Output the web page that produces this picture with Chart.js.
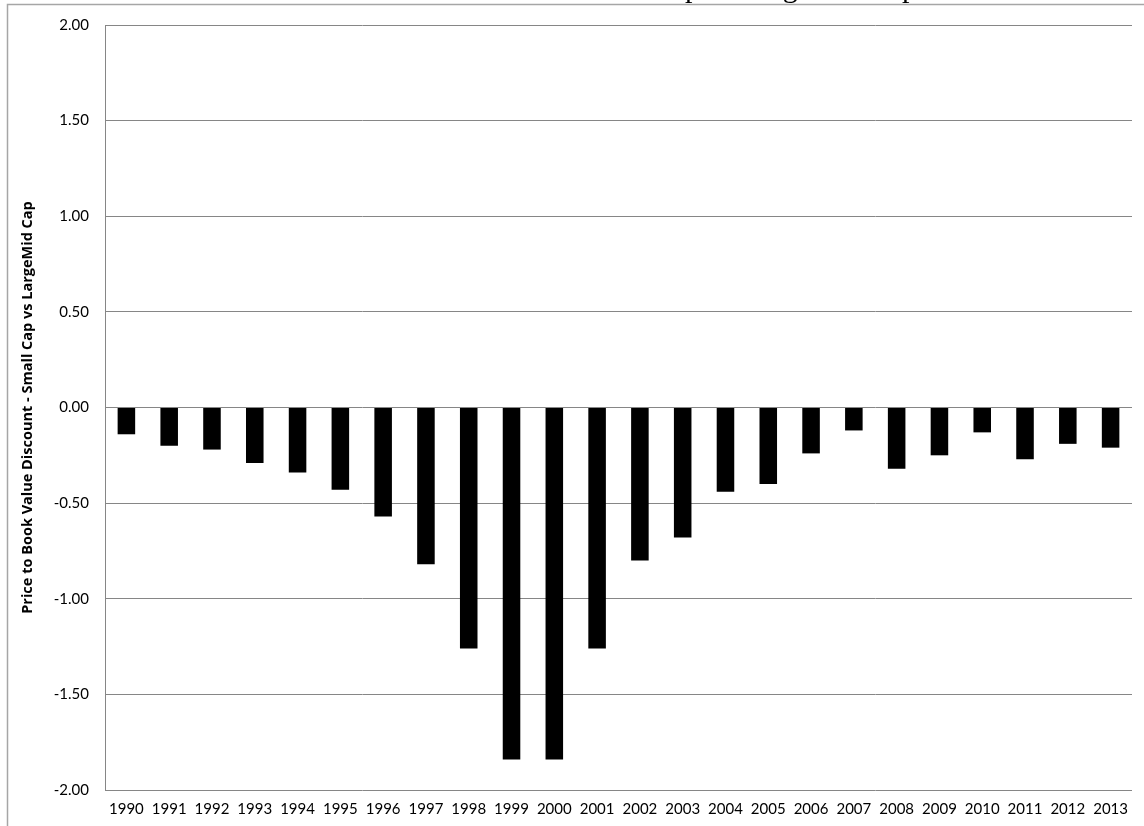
<!DOCTYPE html>
<html lang="en">
<head>
    <meta charset="UTF-8">
    <title>Price to Book Value Discount</title>
    <script src="https://cdn.jsdelivr.net/npm/chart.js"></script>
    <style>
        body, html {
            margin: 0;
            padding: 0;
            background: #fff;
            overflow: hidden;
        }
        #chart-container {
            position: relative;
            width: 1144px;
            height: 826px;
        }
    </style>
</head>
<body>

<div id="chart-container">
    <canvas id="discountChart"></canvas>
</div>

<script>
    // values
    const years = ['1990', '1991', '1992', '1993', '1994', '1995', '1996', '1997', '1998', '1999', '2000', '2001',
                   '2002', '2003', '2004', '2005', '2006', '2007', '2008', '2009', '2010', '2011', '2012', '2013'];
    const discount = [-0.14, -0.20, -0.22, -0.29, -0.34, -0.43, -0.57, -0.82, -1.26, -1.84, -1.84, -1.26,
                      -0.80, -0.68, -0.44, -0.40, -0.24, -0.12, -0.32, -0.25, -0.13, -0.27, -0.19, -0.21];
    const yMin = -2;
    const yMax = 2;
    const yStep = 0.5;
    const axisTitle = 'Price to Book Value Discount - Small Cap vs LargeMid Cap';
    const heading = 'Price to Book Value Discount - Small Cap vs LargeMid Cap';

    // grey frame of the chart box, cut off on the right and bottom
    const framePlugin = {
        id: 'frame',
        beforeDraw(chart) {
            const ctx = chart.ctx;
            ctx.save();
            ctx.strokeStyle = '#a6a6a6';
            ctx.lineWidth = 1.5;
            ctx.beginPath();
            ctx.moveTo(7.5, chart.height);
            ctx.lineTo(7.5, 4.5);
            ctx.lineTo(chart.width, 4.5);
            ctx.stroke();
            ctx.restore();
        }
    };

    // heading sits above the frame, only its descenders are visible
    const headingPlugin = {
        id: 'heading',
        afterDraw(chart) {
            const ctx = chart.ctx;
            ctx.save();
            ctx.font = '30px "Liberation Serif"';
            ctx.fillStyle = '#000';
            ctx.textAlign = 'right';
            ctx.textBaseline = 'alphabetic';
            ctx.fillText(heading, 917, -3);
            ctx.restore();
        }
    };

    const ctx = document.getElementById('discountChart').getContext('2d');
    new Chart(ctx, {
        type: 'bar',
        data: {
            labels: years,
            datasets: [{
                data: discount,
                backgroundColor: '#000',
                borderWidth: 0,
                barPercentage: 0.41,
                categoryPercentage: 1.0
            }]
        },
        options: {
            responsive: true,
            maintainAspectRatio: false,
            animation: false,
            layout: {
                padding: { top: 23, right: 12, left: 0, bottom: 0 }
            },
            plugins: {
                legend: { display: false },
                tooltip: { enabled: false }
            },
            scales: {
                x: {
                    grid: { display: false, drawTicks: false },
                    border: { display: false },
                    ticks: {
                        color: '#000',
                        font: { family: 'Lato', size: 15 },
                        padding: 10,
                        maxRotation: 0,
                        autoSkip: false
                    },
                    afterFit: s => { s.height = 36; }
                },
                y: {
                    min: yMin,
                    max: yMax,
                    grid: { color: '#868686', drawTicks: false },
                    border: { display: true, color: '#868686' },
                    ticks: {
                        stepSize: yStep,
                        color: '#000',
                        font: { family: 'Lato', size: 15 },
                        padding: 16,
                        callback: v => v.toFixed(2)
                    },
                    title: {
                        display: true,
                        text: axisTitle,
                        color: '#000',
                        font: { family: 'Open Sans', size: 14.5, weight: 'bold' },
                        padding: { top: 19, bottom: 0 }
                    },
                    afterFit: s => { s.width = 105; }
                }
            }
        },
        plugins: [framePlugin, headingPlugin]
    });
</script>

</body>
</html>
